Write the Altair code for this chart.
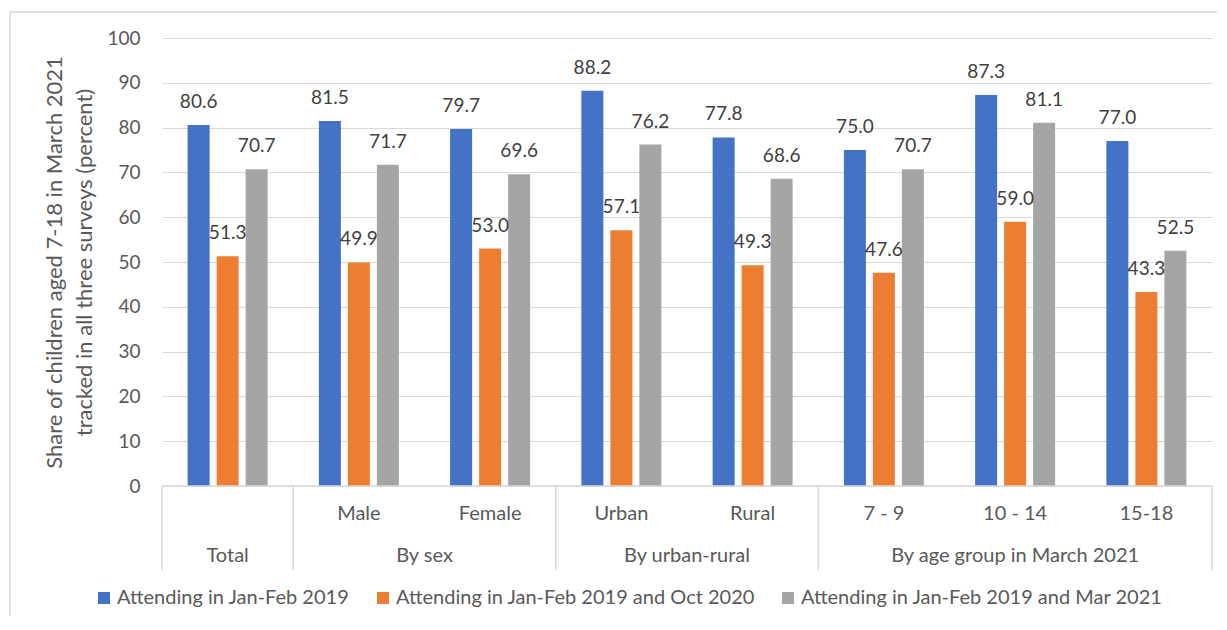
import altair as alt
import pandas as pd

categories = ["Total", "Male", "Female", "Urban", "Rural", "7 - 9", "10 - 14", "15-18"]
sub_labels = ["", "Male", "Female", "Urban", "Rural", "7 - 9", "10 - 14", "15-18"]
groups = ["Total", "By sex", "By sex", "By urban-rural", "By urban-rural",
          "By age group in March 2021", "By age group in March 2021", "By age group in March 2021"]
series = ["Attending in Jan-Feb 2019",
          "Attending in Jan-Feb 2019 and Oct 2020",
          "Attending in Jan-Feb 2019 and Mar 2021"]
s_2019 = [80.6, 81.5, 79.7, 88.2, 77.8, 75.0, 87.3, 77.0]
s_oct2020 = [51.3, 49.9, 53.0, 57.1, 49.3, 47.6, 59.0, 43.3]
s_mar2021 = [70.7, 71.7, 69.6, 76.2, 68.6, 70.7, 81.1, 52.5]
colors = ["#4472C4", "#ED7D31", "#A5A5A5"]
y_ticks = [0, 10, 20, 30, 40, 50, 60, 70, 80, 90, 100]
y_title = ["Share of children aged 7-18 in March 2021", "tracked in all three surveys (percent)"]

FONT = "Lato"
W, H = 1050, 448
N = len(categories)

rows = []
for s, vals in zip(series, [s_2019, s_oct2020, s_mar2021]):
    for c, v in zip(categories, vals):
        rows.append({"cat": c, "series": s, "value": v})
df = pd.DataFrame(rows)

sub_df = pd.DataFrame({"cat": categories, "label": sub_labels})
sub_df = sub_df[sub_df["label"] != ""]

# group spans derived from group list
grp_rows, sep_rows = [], []
start = 0
for i in range(1, N + 1):
    if i == N or groups[i] != groups[start]:
        grp_rows.append({"group": groups[start], "pos": (start + i) / 2})
        sep_rows.append({"pos": start})
        start = i
sep_rows.append({"pos": N})
grp_df = pd.DataFrame(grp_rows)
sep_df = pd.DataFrame(sep_rows)

x_band = alt.X("cat:N", sort=categories,
               scale=alt.Scale(domain=categories, paddingInner=0, paddingOuter=0), axis=None)
x_off = alt.XOffset("series:N", sort=series,
                    scale=alt.Scale(domain=series, paddingInner=0.2414, paddingOuter=0.8837))
y_enc = alt.Y("value:Q", scale=alt.Scale(domain=[0, 100], nice=False),
              axis=alt.Axis(values=y_ticks, grid=True, gridColor="#d9d9d9", domain=False,
                            ticks=False, labelPadding=22, labelFontSize=19, labelFont=FONT,
                            labelColor="#595959", title=y_title, titleFont=FONT,
                            titleFontSize=22, titleFontWeight="normal", titleColor="#595959",
                            titleLineHeight=30, titlePadding=10))
x_q = alt.X("pos:Q", scale=alt.Scale(domain=[0, N], nice=False, zero=False), axis=None)

border = alt.Chart(alt.Data(values=[{"a": 1}])).mark_rect(
    filled=False, stroke="#d9d9d9", strokeWidth=1.5
).encode(x=alt.value(-152), x2=alt.value(1120), y=alt.value(-26), y2=alt.value(700))

bars = alt.Chart(df).mark_bar().encode(
    x=x_band, xOffset=x_off, y=y_enc,
    color=alt.Color("series:N", sort=series,
                    scale=alt.Scale(domain=series, range=colors),
                    legend=alt.Legend(title=None, orient="none", direction="horizontal",
                                      legendX=-68, legendY=550, symbolType="square",
                                      symbolSize=144, symbolStrokeWidth=0,
                                      labelFont=FONT, labelFontSize=20, labelColor="#595959",
                                      labelOffset=3, columnPadding=23, padding=0,
                                      labelLimit=600)),
)

labels = alt.Chart(df).mark_text(
    font=FONT, fontSize=19, color="#404040", baseline="middle", dy=-23
).encode(x=x_band, xOffset=x_off, y=y_enc, text=alt.Text("value:Q", format=".1f"))

baseline_rule = alt.Chart(alt.Data(values=[{"a": 1}])).mark_rule(
    color="#d9d9d9", strokeWidth=1.5
).encode(x=alt.value(0), x2=alt.value(W), y=alt.value(H))

seps = alt.Chart(sep_df).mark_rule(color="#d9d9d9", strokeWidth=1.5).encode(
    x=x_q, y=alt.value(H), y2=alt.value(H + 84))

sub_text = alt.Chart(sub_df).mark_text(
    font=FONT, fontSize=20, color="#595959", baseline="middle"
).encode(x=x_band, y=alt.value(H + 28), text="label:N")

grp_text = alt.Chart(grp_df).mark_text(
    font=FONT, fontSize=20, color="#595959", baseline="middle"
).encode(x=x_q, y=alt.value(H + 70), text="group:N")

chart = alt.layer(border, bars, labels, baseline_rule, seps, sub_text, grp_text).resolve_scale(
    x="independent"
).properties(
    width=W, height=H, autosize=alt.AutoSizeParams(type="none"),
    padding={"left": 154, "top": 30, "right": 5, "bottom": 130}
).configure_view(stroke="transparent")

chart.save("out.html", embed_options={"renderer": "svg", "actions": False})
